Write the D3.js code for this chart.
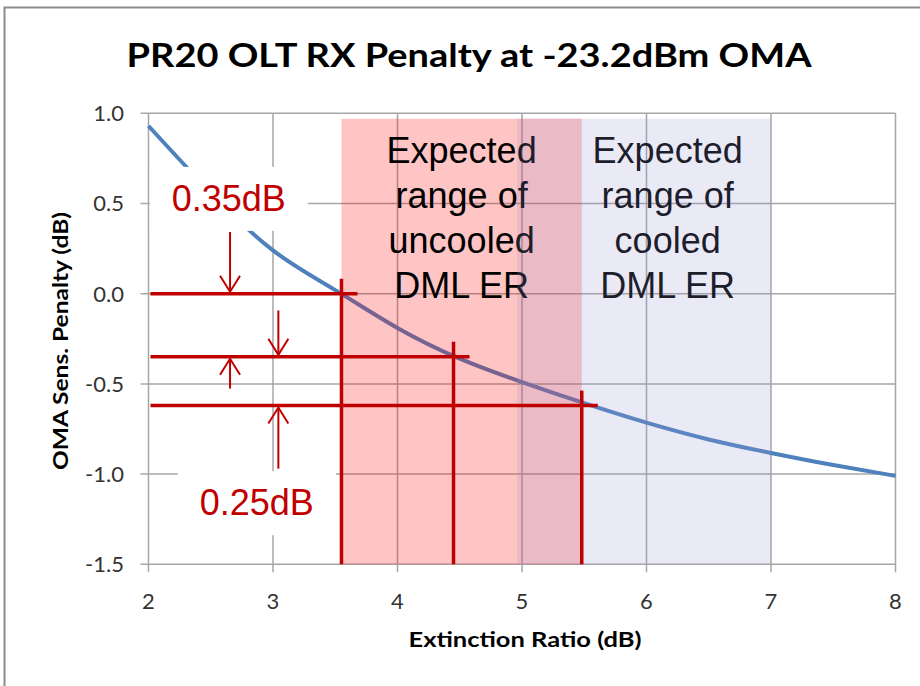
<!DOCTYPE html>
<html>
<head>
<meta charset="utf-8">
<script src="https://cdn.jsdelivr.net/npm/d3@7.9.0/dist/d3.min.js"></script>
<style>
  body { margin: 0; background: #fff; }
  svg { display: block; }
</style>
</head>
<body>
<svg id="chart" width="920" height="686"></svg>
<script>
// curve
const erValues = [2, 2.5, 3, 3.5, 4, 4.5, 5, 5.5, 6, 6.5, 7, 7.5, 8];
const penaltyValues = [0.93, 0.56, 0.24, 0.02, -0.19, -0.36, -0.49, -0.607, -0.715, -0.808, -0.883, -0.95, -1.01];

const xTicks = [2, 3, 4, 5, 6, 7, 8];
const yTicks = [1.0, 0.5, 0.0, -0.5, -1.0, -1.5];

// red cross markers
const markerER = [3.55, 4.45, 5.48];
const markerPenalty = [0, -0.35, -0.62];

// shaded ranges
const uncooledRange = [3.55, 5.48];
const cooledRange = [4.96, 7.0];
const rangeTop = 0.97;

const uncooledText = ['Expected', 'range of', 'uncooled', 'DML ER'];
const cooledText = ['Expected', 'range of', 'cooled', 'DML ER'];
const uncooledTextER = 4.515;
const cooledTextER = 6.17;

// delta labels and arrows
const deltaLabels = ['0.35dB', '0.25dB'];
const deltaLabelER = [2.645, 2.87];
const deltaLabelPenalty = [0.459, -1.228];

const arrowER = [2.655, 3.043, 2.655, 3.043];
const arrowFrom = [0.342, -0.093, -0.526, -0.97];
const arrowTo = [0, -0.35, -0.35, -0.62];

const title = 'PR20 OLT RX Penalty at -23.2dBm OMA';
const xTitle = 'Extinction Ratio (dB)';
const yTitle = 'OMA Sens. Penalty (dB)';

const red = '#c00000';
const svg = d3.select('#chart');

const x = d3.scaleLinear().domain([2, 8]).range([148.5, 895.5]);
const y = d3.scaleLinear().domain([-1.5, 1]).range([564.3, 113.3]);

// outer frame
svg.append('rect')
  .attr('x', 4.5).attr('y', 7.5)
  .attr('width', 2000).attr('height', 2000)
  .attr('fill', '#fff')
  .attr('stroke', '#8c8c8c')
  .attr('stroke-width', 2);

// title
svg.append('text')
  .attr('x', 469).attr('y', 67)
  .attr('text-anchor', 'middle')
  .attr('font-family', 'Lato, sans-serif')
  .attr('font-weight', 700)
  .attr('font-size', 33)
  .attr('textLength', 685)
  .attr('lengthAdjust', 'spacingAndGlyphs')
  .attr('fill', '#000')
  .text(title);

// grid
const grid = svg.append('g').attr('stroke', '#a6a6a6').attr('stroke-width', 1.5);
grid.selectAll('.gx').data(xTicks).join('line')
  .attr('x1', d => x(d)).attr('x2', d => x(d))
  .attr('y1', y(1)).attr('y2', y(-1.5) + 8);
grid.selectAll('.gy').data(yTicks).join('line')
  .attr('x1', x(2) - 8).attr('x2', x(8))
  .attr('y1', d => y(d)).attr('y2', d => y(d));

// axes labels
svg.append('g').selectAll('text').data(xTicks).join('text')
  .attr('x', d => x(d)).attr('y', 609)
  .attr('text-anchor', 'middle')
  .attr('font-family', 'Lato, sans-serif')
  .attr('font-size', 22)
  .attr('fill', '#333')
  .text(d => d);

svg.append('g').selectAll('text').data(yTicks).join('text')
  .attr('x', 124).attr('y', d => y(d))
  .attr('dy', '0.36em')
  .attr('text-anchor', 'end')
  .attr('font-family', 'Lato, sans-serif')
  .attr('font-size', 22)
  .attr('fill', '#333')
  .text(d => d.toFixed(1));

svg.append('text')
  .attr('x', 525).attr('y', 647)
  .attr('text-anchor', 'middle')
  .attr('font-family', 'Lato, sans-serif')
  .attr('font-weight', 700)
  .attr('font-size', 21)
  .attr('textLength', 233)
  .attr('lengthAdjust', 'spacingAndGlyphs')
  .text(xTitle);

svg.append('text')
  .attr('transform', 'translate(68,341) rotate(-90)')
  .attr('text-anchor', 'middle')
  .attr('font-family', 'Lato, sans-serif')
  .attr('font-weight', 700)
  .attr('font-size', 21)
  .attr('textLength', 258)
  .attr('lengthAdjust', 'spacingAndGlyphs')
  .text(yTitle);

// curve
const line = d3.line()
  .x((d, i) => x(erValues[i]))
  .y(d => y(d))
  .curve(d3.curveNatural);

svg.append('path')
  .attr('d', line(penaltyValues))
  .attr('fill', 'none')
  .attr('stroke', '#4f81bd')
  .attr('stroke-width', 4);

// uncooled range
svg.append('rect')
  .attr('x', x(uncooledRange[0])).attr('y', y(rangeTop))
  .attr('width', x(uncooledRange[1]) - x(uncooledRange[0]))
  .attr('height', y(-1.5) - y(rangeTop))
  .attr('fill', 'rgba(255,0,0,0.23)');

function rangeLabel(lines, er) {
  svg.append('g').selectAll('text').data(lines).join('text')
    .attr('x', x(er))
    .attr('y', (d, i) => 163 + i * 45)
    .attr('text-anchor', 'middle')
    .attr('font-family', 'Liberation Sans, Arial, sans-serif')
    .attr('font-size', 36)
    .attr('fill', '#000')
    .text(d => d);
}
rangeLabel(uncooledText, uncooledTextER);
rangeLabel(cooledText, cooledTextER);

// cooled range drawn on top
svg.append('rect')
  .attr('x', x(cooledRange[0])).attr('y', y(rangeTop))
  .attr('width', x(cooledRange[1]) - x(cooledRange[0]))
  .attr('height', y(-1.5) - y(rangeTop))
  .attr('fill', 'rgba(150,150,210,0.2)');

// delta labels with white boxes
deltaLabels.forEach((label, i) => {
  const cx = x(deltaLabelER[i]);
  const by = y(deltaLabelPenalty[i]);
  svg.append('rect')
    .attr('x', cx - 79).attr('y', by - 44)
    .attr('width', 158).attr('height', 64)
    .attr('fill', '#fff');
  svg.append('text')
    .attr('x', cx).attr('y', by)
    .attr('text-anchor', 'middle')
    .attr('font-family', 'Liberation Sans, Arial, sans-serif')
    .attr('font-size', 36)
    .attr('fill', red)
    .text(label);
});

// red cross lines
const marks = svg.append('g').attr('stroke', red).attr('stroke-width', 3.5);
markerER.forEach((er, i) => {
  marks.append('line')
    .attr('x1', x(2) + 2).attr('x2', x(er) + 16)
    .attr('y1', y(markerPenalty[i])).attr('y2', y(markerPenalty[i]));
  marks.append('line')
    .attr('x1', x(er)).attr('x2', x(er))
    .attr('y1', y(markerPenalty[i]) - 15).attr('y2', y(-1.5));
});

// arrows
const arrows = svg.append('g')
  .attr('stroke', red).attr('stroke-width', 2).attr('fill', 'none');
arrowER.forEach((er, i) => {
  const ax = x(er);
  const y0 = y(arrowFrom[i]);
  const y1 = y(arrowTo[i]);
  const dir = y1 > y0 ? 1 : -1;
  const tip = y1 - dir * 2;
  arrows.append('line')
    .attr('x1', ax).attr('x2', ax)
    .attr('y1', y0).attr('y2', tip);
  arrows.append('path')
    .attr('d', `M${ax - 10},${tip - dir * 16} L${ax},${tip} L${ax + 10},${tip - dir * 16}`);
});
</script>
</body>
</html>
